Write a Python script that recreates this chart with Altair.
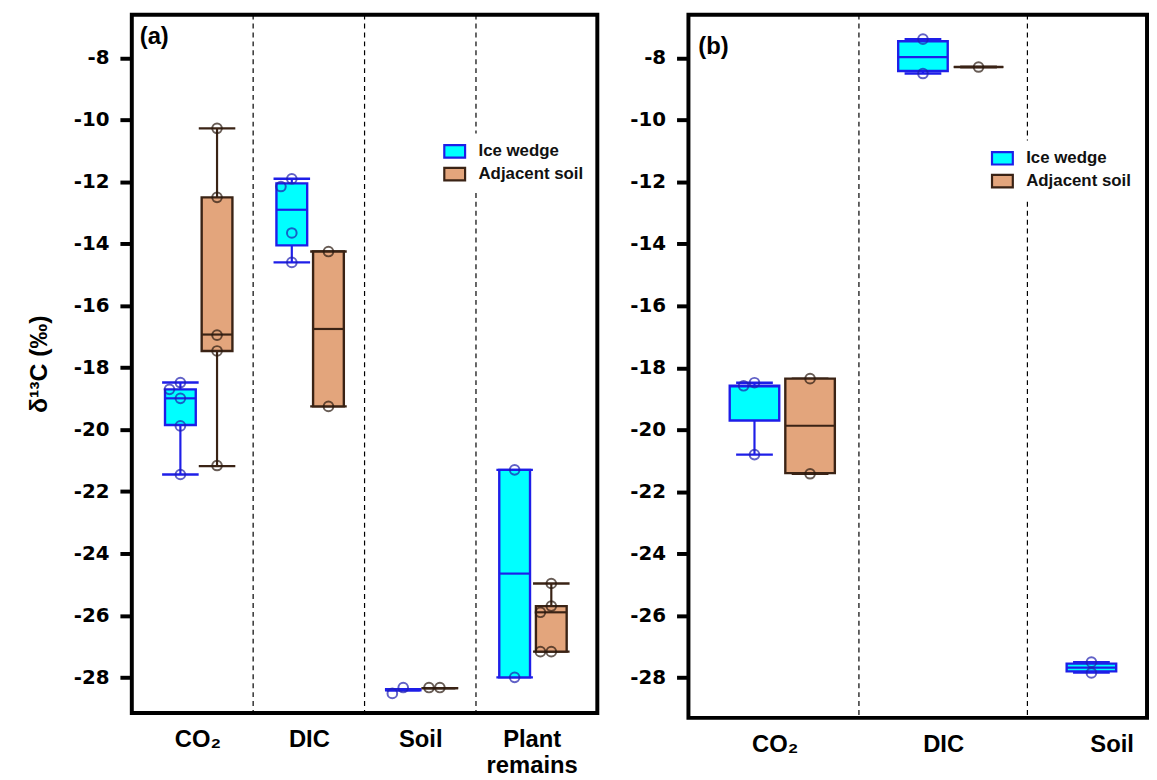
import json
import altair as alt
import pandas as pd

# ---------------- data ----------------
GROUPS = ["Ice wedge", "Adjacent soil"]
FILLS = ["#00ffff", "#e3a57c"]
STROKES = ["#1e1ee8", "#3a2315"]
POINT_COLORS = ["#1f1fb0", "#2a1a10"]
TAGS = ["(a)", "(b)"]
Y_TITLE = "δ¹³C (‰)"
Y_TICKS = [-8, -10, -12, -14, -16, -18, -20, -22, -24, -26, -28]

# panel (a)
cats_a = ["CO₂", "DIC", "Soil", "Plant\nremains"]
a_ice_min = [-21.45, -14.60, -28.42, -28.00]
a_ice_q1 = [-19.85, -14.05, -28.42, -28.00]
a_ice_med = [-18.99, -12.90, -28.40, -24.65]
a_ice_q3 = [-18.70, -12.05, -28.38, -21.30]
a_ice_max = [-18.48, -11.90, -28.38, -21.30]
a_ice_pts = [[-18.48, -18.70, -18.99, -19.88, -21.45],
             [-11.90, -12.15, -13.65, -14.60],
             [-28.33, -28.52],
             [-21.30, -28.00]]
a_soil_min = [-21.18, -19.25, -28.35, -27.17]
a_soil_q1 = [-17.46, -19.25, -28.35, -27.17]
a_soil_med = [-16.93, -16.75, -28.35, -25.90]
a_soil_q3 = [-12.50, -14.25, -28.35, -25.70]
a_soil_max = [-10.27, -14.25, -28.35, -24.97]
a_soil_pts = [[-10.27, -12.50, -16.95, -17.46, -21.16],
              [-14.25, -19.25],
              [-28.33, -28.33],
              [-24.97, -25.70, -25.90, -27.17, -27.17]]

# panel (b)
cats_b = ["CO₂", "DIC", "Soil"]
b_ice_min = [-20.80, -8.50, -27.84]
b_ice_q1 = [-19.70, -8.42, -27.80]
b_ice_med = [-18.60, -7.97, -27.68]
b_ice_q3 = [-18.58, -7.46, -27.55]
b_ice_max = [-18.48, -7.39, -27.50]
b_ice_pts = [[-18.48, -18.58, -20.80],
             [-7.39, -8.50],
             [-27.50, -27.85]]
b_soil_min = [-21.42, -8.29, None]
b_soil_q1 = [-21.40, -8.29, None]
b_soil_med = [-19.87, -8.29, None]
b_soil_q3 = [-18.35, -8.29, None]
b_soil_max = [-18.35, -8.29, None]
b_soil_pts = [[-18.35, -21.42],
              [-8.29],
              []]

BOLD_SANS = "Liberation Sans"
TICK_FONT = "DejaVu Sans"


def build_panel(cats, stats, pts, x_dom, y_dom, w, h, offs, hw, chw,
                leg_x, leg_y, tag, tag_x, tag_y, y_title):
    ppx = w / (x_dom[1] - x_dom[0])
    ppy = h / (y_dom[1] - y_dom[0])
    box_rows, pt_rows = [], []
    for gi, g in enumerate(GROUPS):
        mn, q1, md, q3, mx = stats[gi]
        for ci in range(len(cats)):
            if mn[ci] is None:
                continue
            pos = ci + 0.5 + offs[gi]
            box_rows.append(dict(group=g, pos=pos, x1=pos - hw, x2=pos + hw,
                                 c1=pos - chw, c2=pos + chw, mn=mn[ci], q1=q1[ci],
                                 md=md[ci], q3=q3[ci], mx=mx[ci], lc=STROKES[gi]))
            placed = []
            for v in pts[gi][ci]:
                for k in [0, -1, 1, -2, 2]:
                    xp = k * 11.0
                    yp = v * ppy
                    if all(((xp - a) ** 2 + (yp - b) ** 2) ** 0.5 >= 9 for a, b in placed):
                        break
                placed.append((xp, yp))
                pt_rows.append(dict(px=pos + xp / ppx, v=v, pc=POINT_COLORS[gi]))
    boxes = pd.DataFrame(box_rows)
    points = pd.DataFrame(pt_rows)
    seps = pd.DataFrame({"sep": list(range(1, len(cats)))})

    label_list = [c.split("\n") if "\n" in c else c for c in cats]
    label_expr = json.dumps(label_list, ensure_ascii=False) + "[round(datum.value - 0.5)]"

    xs = alt.Scale(domain=list(x_dom), nice=False, zero=False)
    ys = alt.Scale(domain=list(y_dom), nice=False, zero=False)
    xax = alt.Axis(values=[i + 0.5 for i in range(len(cats))], labelExpr=label_expr,
                   title=None, grid=False, domain=False, ticks=False, tickSize=0,
                   labelFont=BOLD_SANS, labelFontSize=24, labelFontWeight="bold",
                   labelColor="black", labelPadding=15, labelBaseline="top",
                   labelFlush=False, labelOverlap=False, labelLineHeight=26)
    yax_kw = dict(values=Y_TICKS, labelExpr="'' + datum.value", grid=False, domain=False,
                  ticks=True, tickSize=12, tickWidth=4, tickColor="black",
                  labelFont=TICK_FONT, labelFontSize=20, labelFontWeight="bold",
                  labelColor="black", labelPadding=11)
    if y_title:
        yax = alt.Axis(title=y_title, titleFont=BOLD_SANS, titleFontSize=25,
                       titleFontWeight="bold", titleColor="black", titlePadding=22, **yax_kw)
    else:
        yax = alt.Axis(title=None, **yax_kw)

    def X(f):
        return alt.X(f"{f}:Q", scale=xs, axis=xax)

    def Y(f):
        return alt.Y(f"{f}:Q", scale=ys, axis=yax)

    legend = alt.Legend(title=None, orient="none", legendX=leg_x, legendY=leg_y,
                        symbolType="M-1,-0.6H1V0.6H-1Z", symbolSize=441,
                        symbolStrokeWidth=2.2, labelFont=BOLD_SANS, labelFontSize=17,
                        labelFontWeight="bold", labelColor="#111111", labelOffset=12,
                        fillColor="white", padding=6, rowPadding=0)
    fill_enc = alt.Fill("group:N", scale=alt.Scale(domain=GROUPS, range=FILLS), legend=legend)
    stroke_enc = alt.Stroke("group:N", scale=alt.Scale(domain=GROUPS, range=STROKES), legend=legend)
    lc = alt.Stroke("lc:N", scale=None)

    sep_layer = alt.Chart(seps).mark_rule(color="black", strokeWidth=1.2, strokeDash=[5, 4]).encode(x=X("sep"))
    base = alt.Chart(boxes)
    whisk_hi = base.mark_rule(strokeWidth=2.2).encode(x=X("pos"), y=Y("q3"), y2="mx", stroke=lc)
    whisk_lo = base.mark_rule(strokeWidth=2.2).encode(x=X("pos"), y=Y("mn"), y2="q1", stroke=lc)
    cap_hi = base.mark_rule(strokeWidth=2.4).encode(x=X("c1"), x2="c2", y=Y("mx"), stroke=lc)
    cap_lo = base.mark_rule(strokeWidth=2.4).encode(x=X("c1"), x2="c2", y=Y("mn"), stroke=lc)
    box = base.mark_rect(strokeWidth=2.4).encode(x=X("x1"), x2="x2", y=Y("q1"), y2="q3",
                                                 fill=fill_enc, stroke=stroke_enc)
    med = base.mark_rule(strokeWidth=2.2).encode(x=X("x1"), x2="x2", y=Y("md"), stroke=lc)
    pt = alt.Chart(points).mark_point(shape="circle", filled=False, size=95, strokeWidth=2).encode(
        x=X("px"), y=Y("v"), stroke=alt.Stroke("pc:N", scale=None))
    tag_layer = alt.Chart(pd.DataFrame({"t": [tag]})).mark_text(
        font=BOLD_SANS, fontSize=24, fontWeight="bold", color="black", align="left",
        baseline="alphabetic").encode(x=alt.value(tag_x), y=alt.value(tag_y), text="t:N")

    return alt.layer(sep_layer, whisk_hi, whisk_lo, cap_hi, cap_lo, box, med, pt, tag_layer).properties(
        width=w, height=h, view=alt.ViewBackground(stroke="black", strokeWidth=4))


panel_a = build_panel(
    cats_a,
    [(a_ice_min, a_ice_q1, a_ice_med, a_ice_q3, a_ice_max),
     (a_soil_min, a_soil_q1, a_soil_med, a_soil_q3, a_soil_max)],
    [a_ice_pts, a_soil_pts],
    x_dom=(-0.089, 4.089), y_dom=(-29.15, -6.6), w=470, h=705,
    offs=(-0.153, 0.176), hw=0.138, chw=0.164,
    leg_x=308, leg_y=120, tag=TAGS[0], tag_x=8, tag_y=30, y_title=Y_TITLE)

panel_b = build_panel(
    cats_b,
    [(b_ice_min, b_ice_q1, b_ice_med, b_ice_q3, b_ice_max),
     (b_soil_min, b_soil_q1, b_soil_med, b_soil_q3, b_soil_max)],
    [b_ice_pts, b_soil_pts],
    x_dom=(-0.012, 2.71), y_dom=(-29.3, -6.6), w=463, h=710,
    offs=(-0.12, 0.21), hw=0.147, chw=0.109,
    leg_x=299, leg_y=127, tag=TAGS[1], tag_x=10, tag_y=40, y_title=None)

chart = alt.hconcat(panel_a, panel_b, spacing=28).resolve_scale(
    x="independent", y="independent", fill="independent", stroke="independent"
).resolve_legend(fill="independent", stroke="independent").properties(
    padding={"left": 16, "top": 0, "right": 0, "bottom": 0}
).configure(background="white")

chart.save("out.html", embed_options={"renderer": "svg", "actions": False})
